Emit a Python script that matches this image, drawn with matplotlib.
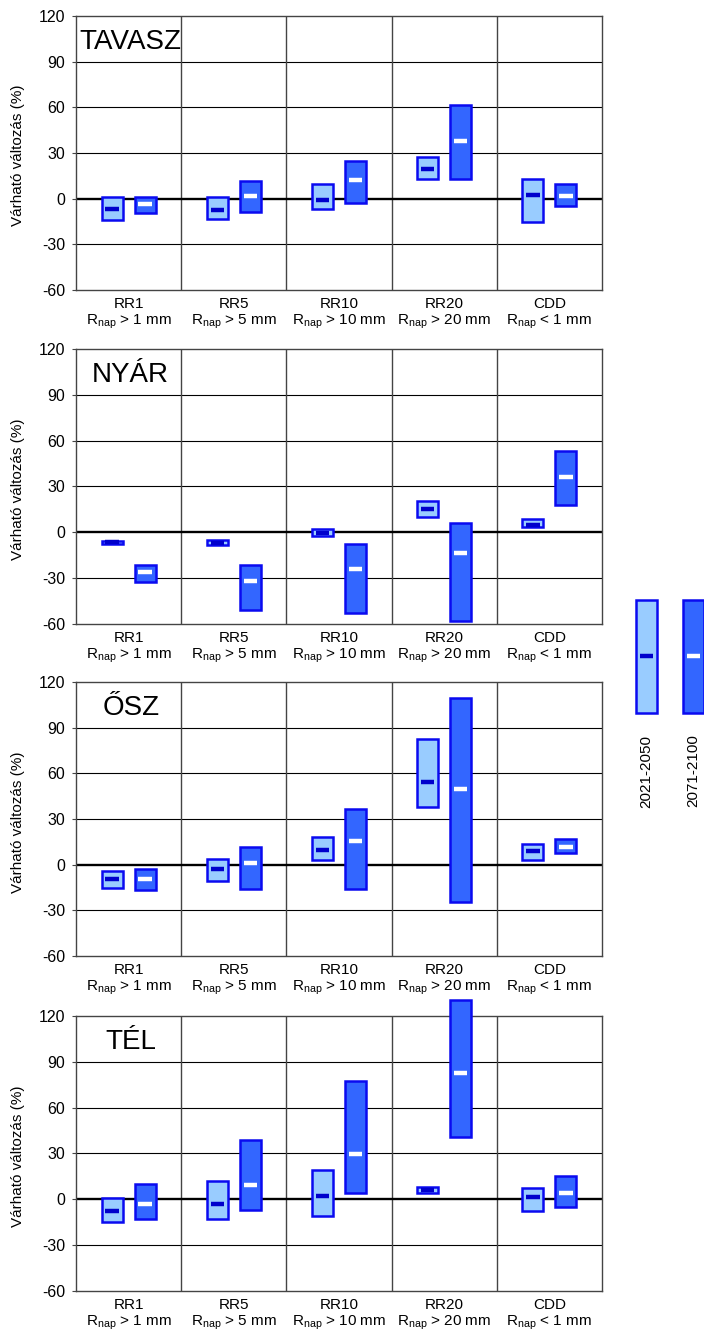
"""Projected seasonal changes of precipitation indices, four stacked panels."""
import matplotlib
matplotlib.use("Agg")
import matplotlib.pyplot as plt

plt.rcParams["font.family"] = ["Liberation Sans", "DejaVu Sans"]
plt.rcParams["axes.unicode_minus"] = False

LIGHT, DARK, EDGE = "#99CCFF", "#3366FF", "#0A0AF0"
MED_LIGHT, MED_DARK = "#0000CC", "#FFFFFF"

indices = ["RR1", "RR5", "RR10", "RR20", "CDD"]
thresholds = [r"$\mathregular{R_{nap}}$ > 1 mm", r"$\mathregular{R_{nap}}$ > 5 mm",
              r"$\mathregular{R_{nap}}$ > 10 mm", r"$\mathregular{R_{nap}}$ > 20 mm",
              r"$\mathregular{R_{nap}}$ < 1 mm"]
seasons = ["TAVASZ", "NYÁR", "ŐSZ", "TÉL"]
periods = ["2021-2050", "2071-2100"]

# lower bound, upper bound, median (%) per index -- 2021-2050
near_low = {
    "TAVASZ": [-14.0, -13.6, -6.6, 12.9, -15.1],
    "NYÁR":   [-7.5, -8.5, -2.2, 9.8, 3.3],
    "ŐSZ":    [-15.3, -10.5, 3.1, 38.1, 3.3],
    "TÉL":    [-14.6, -12.7, -11.1, 4.2, -7.6],
}
near_high = {
    "TAVASZ": [1.3, 0.9, 9.6, 27.2, 12.9],
    "NYÁR":   [-5.5, -5.0, 2.2, 20.8, 9.0],
    "ŐSZ":    [-4.4, 3.7, 18.4, 82.8, 13.6],
    "TÉL":    [0.7, 11.8, 19.4, 8.1, 7.6],
}
near_med = {
    "TAVASZ": [-6.6, -7.2, -0.9, 19.5, 2.6],
    "NYÁR":   [-6.6, -6.8, -0.2, 15.5, 5.0],
    "ŐSZ":    [-9.2, -3.1, 9.4, 54.1, 9.0],
    "TÉL":    [-7.9, -3.3, 2.0, 6.1, 1.3],
}
# 2071-2100
far_low = {
    "TAVASZ": [-9.6, -8.5, -3.0, 12.9, -4.6],
    "NYÁR":   [-32.5, -50.9, -52.6, -57.9, 18.1],
    "ŐSZ":    [-16.4, -15.8, -15.8, -24.7, 7.4],
    "TÉL":    [-12.7, -6.8, 4.4, 40.8, -4.8],
}
far_high = {
    "TAVASZ": [0.9, 11.8, 24.7, 61.5, 9.4],
    "NYÁR":   [-21.2, -21.2, -7.4, 6.3, 53.3],
    "ŐSZ":    [-2.6, 11.4, 36.6, 109.5, 16.9],
    "TÉL":    [9.8, 39.1, 77.5, 130.4, 15.1],
}
far_med = {
    "TAVASZ": [-3.7, 2.0, 12.3, 38.1, 2.0],
    "NYÁR":   [-26.2, -31.7, -23.8, -13.3, 36.0],
    "ŐSZ":    [-9.4, 1.1, 15.8, 49.9, 11.6],
    "TÉL":    [-2.8, 9.2, 29.5, 82.4, 4.2],
}

W, OFF = 0.2, 0.157


def draw_ranges(ax, xs, low, high, med, fill, med_color):
    heights = [h - l for l, h in zip(low, high)]
    ax.bar(xs, heights, bottom=low, width=W, color=fill, edgecolor=EDGE,
           linewidth=1.8, zorder=3, clip_on=False)
    ax.hlines(med, [x - W * 0.32 for x in xs], [x + W * 0.32 for x in xs],
              colors=med_color, linewidth=3.2, zorder=4, clip_on=False)


fig = plt.figure(figsize=(7.04, 13.31), dpi=100)
bottoms = [0.7821, 0.5312, 0.2817, 0.0301]
heights = [0.2059, 0.2066, 0.2059, 0.2066]
pos = list(range(len(indices)))

for season, b, h in zip(seasons, bottoms, heights):
    ax = fig.add_axes([0.108, b, 0.747, h])
    ax.set_xlim(-0.5, 4.5)
    ax.set_ylim(-60, 120)
    ax.set_yticks(range(-60, 121, 30))
    ax.tick_params(axis="y", labelsize=11.5, length=3, color="#444444", pad=5)
    ax.tick_params(axis="x", length=0, pad=5)
    ax.set_xticks(pos)
    ax.set_xticklabels([f"{i}\n{t}" for i, t in zip(indices, thresholds)],
                       fontsize=11, linespacing=1.15)
    for y in (-30, 30, 60, 90):
        ax.axhline(y, color="black", lw=0.8, zorder=1)
    ax.axhline(0, color="black", lw=1.7, zorder=2)
    for x in (0.5, 1.5, 2.5, 3.5):
        ax.axvline(x, color="#444444", lw=1.0, zorder=1)
    for s in ax.spines.values():
        s.set_color("#444444")
        s.set_linewidth(1.0)
    ax.set_ylabel("Várható változás (%)", fontsize=11)
    ax.yaxis.set_label_coords(-0.097, 0.49)

    draw_ranges(ax, [p - OFF for p in pos], near_low[season], near_high[season],
                near_med[season], LIGHT, MED_LIGHT)
    draw_ranges(ax, [p + OFF for p in pos], far_low[season], far_high[season],
                far_med[season], DARK, MED_DARK)
    ax.text(0.02, 103, season, fontsize=20, ha="center", va="center", zorder=5)

# period key on the right
lax = fig.add_axes([0.8807, 0.3839, 0.1193, 0.1728])
lax.set_xlim(0, 1)
lax.set_ylim(0, 1)
lax.axis("off")
key_x = [0.315, 0.875]
key_fill = [LIGHT, DARK]
key_med = [MED_LIGHT, MED_DARK]
for x, fc, mc, label in zip(key_x, key_fill, key_med, periods):
    lax.bar(x, 0.4913, bottom=0.4652, width=0.25, color=fc,
            edgecolor=EDGE, linewidth=1.8, clip_on=False)
    lax.hlines(0.713, x - 0.08, x + 0.08, colors=mc, linewidth=3.2, clip_on=False)
    lax.text(x, 0.213, label, rotation=90, ha="center", va="center", fontsize=11)

fig.savefig("out.png", dpi=100)
